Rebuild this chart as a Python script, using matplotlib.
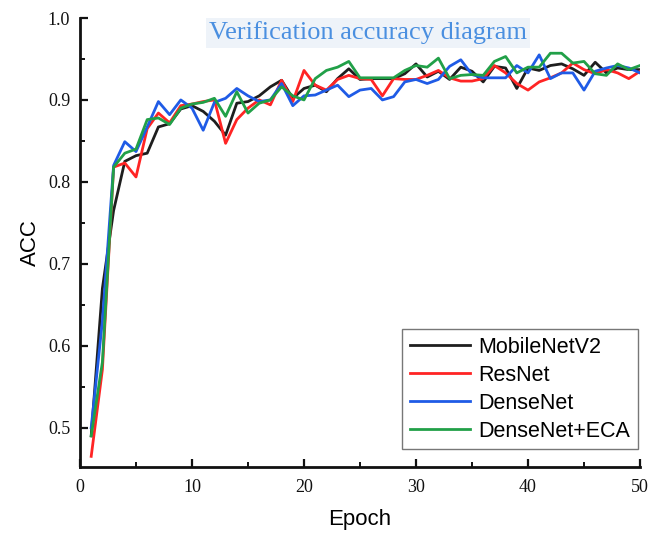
import matplotlib
matplotlib.use("Agg")
import matplotlib.pyplot as plt
from matplotlib.ticker import MultipleLocator

epochs = list(range(1, 51))

mobilenetv2 = [0.490, 0.670, 0.765, 0.825, 0.832, 0.835, 0.867, 0.871, 0.889, 0.893,
               0.886, 0.874, 0.857, 0.896, 0.898, 0.905, 0.916, 0.924, 0.902, 0.914,
               0.918, 0.910, 0.926, 0.938, 0.925, 0.926, 0.926, 0.926, 0.932, 0.944,
               0.928, 0.935, 0.925, 0.940, 0.935, 0.922, 0.941, 0.939, 0.914, 0.939,
               0.936, 0.942, 0.944, 0.938, 0.930, 0.946, 0.933, 0.939, 0.937, 0.937]
resnet = [0.465, 0.571, 0.818, 0.823, 0.806, 0.865, 0.884, 0.872, 0.893, 0.895,
          0.898, 0.900, 0.847, 0.876, 0.890, 0.900, 0.894, 0.924, 0.898, 0.936,
          0.918, 0.912, 0.925, 0.930, 0.926, 0.925, 0.905, 0.926, 0.925, 0.925,
          0.930, 0.936, 0.927, 0.923, 0.923, 0.926, 0.942, 0.933, 0.920, 0.912,
          0.922, 0.927, 0.933, 0.945, 0.937, 0.932, 0.937, 0.933, 0.926, 0.935]
densenet = [0.500, 0.630, 0.820, 0.849, 0.837, 0.867, 0.898, 0.882, 0.900, 0.890,
            0.863, 0.897, 0.902, 0.914, 0.905, 0.898, 0.900, 0.920, 0.893, 0.905,
            0.906, 0.912, 0.918, 0.904, 0.912, 0.914, 0.900, 0.904, 0.922, 0.925,
            0.920, 0.925, 0.941, 0.949, 0.931, 0.927, 0.927, 0.927, 0.942, 0.933,
            0.955, 0.926, 0.933, 0.933, 0.912, 0.935, 0.939, 0.942, 0.939, 0.933]
densenet_eca = [0.490, 0.580, 0.818, 0.835, 0.840, 0.876, 0.878, 0.870, 0.890, 0.895,
                0.897, 0.902, 0.880, 0.910, 0.884, 0.896, 0.900, 0.916, 0.905, 0.900,
                0.926, 0.936, 0.940, 0.947, 0.927, 0.927, 0.927, 0.927, 0.936, 0.942,
                0.940, 0.951, 0.926, 0.930, 0.931, 0.930, 0.947, 0.953, 0.933, 0.940,
                0.940, 0.957, 0.957, 0.945, 0.947, 0.932, 0.930, 0.944, 0.937, 0.942]

series = [
    ("MobileNetV2", mobilenetv2, "#1e1e1e"),
    ("ResNet", resnet, "#ff2424"),
    ("DenseNet", densenet, "#1f5be6"),
    ("DenseNet+ECA", densenet_eca, "#21a048"),
]

fig = plt.figure(figsize=(6.51, 5.33), dpi=100)
ax = fig.add_axes([80/651, 1-467/533, 560/651, 449/533])

for name, vals, col in series:
    ax.plot(epochs, vals, color=col, lw=2.0, label=name)

ax.set_xlim(0, 50)
ax.set_ylim(0.452, 1.0)
ax.xaxis.set_major_locator(MultipleLocator(10))
ax.xaxis.set_minor_locator(MultipleLocator(5))
ax.yaxis.set_minor_locator(MultipleLocator(0.05))
ax.set_yticks([0.5, 0.6, 0.7, 0.8, 0.9, 1.0])
ax.set_yticklabels(["0.5", "0.6", "0.7", "0.8", "0.9", "1.0"])

for s in ["top", "right"]:
    ax.spines[s].set_visible(False)
for s in ["left", "bottom"]:
    ax.spines[s].set_linewidth(2.0)
    ax.spines[s].set_color("#111111")

ax.tick_params(which="major", direction="in", length=6, width=1.6, colors="#111111",
               labelsize=13, pad=9)
ax.tick_params(which="minor", direction="in", length=3.5, width=1.4, colors="#111111")
ax.tick_params(axis="y", which="major", pad=7)
for lbl in ax.get_xticklabels() + ax.get_yticklabels():
    lbl.set_family("Liberation Serif")

ax.set_xlabel("Epoch", fontsize=16, family="Liberation Sans", labelpad=9)
ax.set_ylabel("ACC", fontsize=16, family="Liberation Sans", labelpad=5)

leg = ax.legend(loc="lower right", bbox_to_anchor=(1.0, 0.035),
                prop={"family": "Liberation Sans", "size": 15.5},
                frameon=True, fancybox=False, handlelength=2.8, handletextpad=0.4,
                borderpad=0.35, labelspacing=0.32, borderaxespad=0.1)
leg.get_frame().set_edgecolor("#555555")
leg.get_frame().set_linewidth(1.0)

fig.text(368/651, 1-33/533, "Verification accuracy diagram", ha="center", va="center",
         family="Liberation Serif", fontsize=19, color="#4a8fe0",
         bbox=dict(boxstyle="square,pad=0.12", facecolor="#eef3f9", edgecolor="none"))

fig.savefig("out.png", dpi=100)
